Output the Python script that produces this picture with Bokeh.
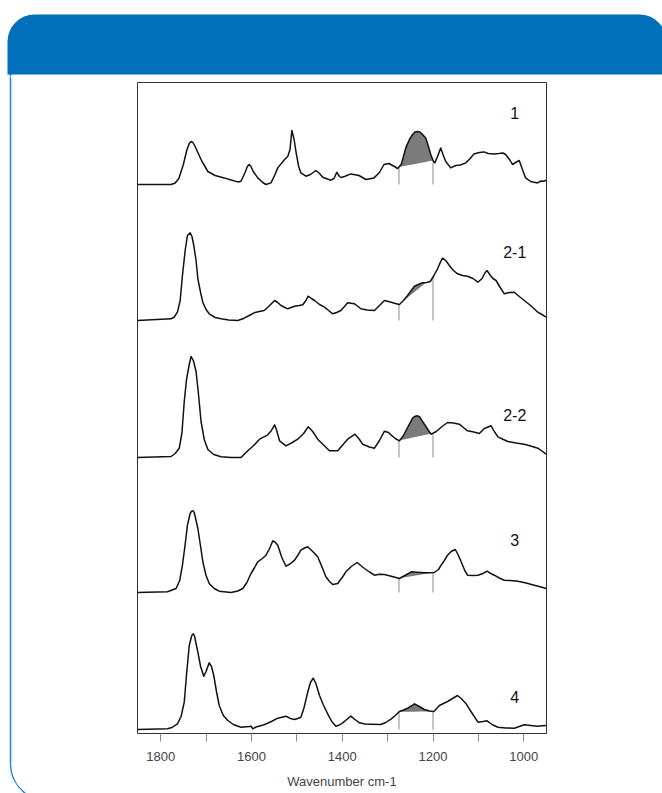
import numpy as np
from bokeh.plotting import figure
from bokeh.layouts import column, row
from bokeh.models import Range1d, FixedTicker
from bokeh.core.properties import value
from bokeh.embed import file_html
from bokeh.resources import INLINE

# ---------------- data ----------------
spectrum_names = ["1", "2-1", "2-2", "3", "4"]

wn_s1 = [1851, 1777, 1768, 1760, 1750, 1742, 1737, 1733, 1729, 1724, 1710, 1696, 1680, 1660, 1645,
         1630, 1623, 1614, 1609, 1605, 1601, 1596, 1586, 1575, 1568, 1557, 1549, 1542, 1527, 1520,
         1515, 1511, 1506, 1502, 1496, 1491, 1480, 1470, 1458, 1450, 1443, 1425, 1418, 1412, 1406,
         1403, 1395, 1381, 1363, 1348, 1330, 1318, 1308, 1297, 1285, 1278, 1270, 1260, 1252, 1245,
         1240, 1234, 1229, 1225, 1216, 1210, 1205, 1200, 1196, 1190, 1183, 1178, 1172, 1161, 1150,
         1140, 1128, 1118, 1110, 1098, 1088, 1078, 1066, 1055, 1046, 1040, 1030, 1025, 1018, 1010,
         1003, 996, 985, 970, 962, 955, 950]
ab_s1 = [0, 0, 1.5, 6, 20, 35, 41, 43, 42, 38, 24, 13, 9, 6.6, 4.5,
         2.6, 3.3, 12, 18, 20, 18, 13, 6.6, 2, 0, 1.6, 9, 16.6, 25, 28,
         35, 54, 45, 33, 18, 11.6, 8.3, 10, 14, 11, 7.3, 4.3, 6, 12.3, 8,
         7, 8, 10.6, 9, 5, 6.6, 12, 20, 21, 18, 16, 20, 36.6, 45, 50,
         52.5, 53, 52.5, 51, 46.6, 38, 30, 24, 21.6, 28, 36.6, 30, 23, 16.6, 19,
         19.5, 21.6, 26, 30.6, 32, 32.6, 31, 30.6, 31, 31.5, 30, 24, 20, 22, 24,
         15, 6.6, 3, 1.6, 3.5, 3.3, 4.5]

wn_s21 = [1851, 1777, 1770, 1763, 1757, 1752, 1746, 1741, 1735, 1731, 1727, 1722, 1718, 1712, 1707,
          1700, 1693, 1680, 1667, 1650, 1630, 1616, 1605, 1594, 1583, 1572, 1562, 1549, 1542, 1535,
          1520, 1505, 1495, 1487, 1480, 1475, 1468, 1461, 1450, 1439, 1430, 1421, 1412, 1403, 1395,
          1388, 1373, 1365, 1359, 1345, 1329, 1318, 1307, 1292, 1283, 1274, 1265, 1256, 1248, 1241,
          1230, 1223, 1214, 1206, 1198, 1190, 1184, 1179, 1172, 1164, 1155, 1146, 1135, 1124, 1112,
          1101, 1092, 1085, 1081, 1075, 1068, 1061, 1052, 1043, 1032, 1021, 1010, 999, 985, 969,
          960, 951]
ab_s21 = [0, 1.7, 3.5, 8.3, 20, 45, 70, 85, 87.7, 84, 75, 60, 41.7, 28, 18,
          11, 6.7, 3, 1.7, 0.5, 0, 2.3, 5, 7.7, 9, 10, 14, 20, 18, 15,
          11.7, 14.3, 15, 15.7, 20, 24.3, 22, 20, 16, 13.3, 10, 6.7, 8, 10, 14,
          17.7, 16.7, 14, 11.7, 10.5, 10, 15, 20, 18.3, 17, 16, 20, 25, 30, 34.3,
          36.5, 37.7, 38, 39, 45, 51.7, 58, 62.3, 60, 55, 50, 46.7, 45, 44.3, 42,
          38.3, 42, 48, 50, 46, 42, 40, 33, 26.7, 28, 28.3, 24, 20, 15, 8.3,
          6, 3.3]

wn_s22 = [1851, 1777, 1768, 1759, 1753, 1748, 1743, 1737, 1733, 1728, 1722, 1717, 1711, 1704, 1696,
          1683, 1667, 1645, 1623, 1608, 1595, 1582, 1564, 1556, 1549, 1545, 1538, 1524, 1510, 1498,
          1485, 1475, 1465, 1454, 1440, 1428, 1410, 1400, 1388, 1372, 1362, 1355, 1340, 1329, 1318,
          1307, 1298, 1292, 1283, 1274, 1265, 1256, 1245, 1239, 1234, 1229, 1226, 1219, 1210, 1204,
          1193, 1180, 1168, 1155, 1142, 1133, 1124, 1110, 1098, 1087, 1072, 1065, 1057, 1045, 1035,
          1017, 999, 985, 969, 960, 951]
ab_s22 = [0, 1, 4, 9.3, 25, 56, 78, 93, 101, 97, 86, 65, 36, 18, 8,
          3, 0.7, 0, 0, 6.7, 12, 18.3, 22.7, 27, 32.7, 28, 16.7, 11.7, 15, 18.3,
          24, 30.7, 26, 18.3, 12, 6.7, 6.7, 12, 18.3, 23.3, 18, 13.3, 10.5, 9.3, 17,
          26.3, 25, 22.3, 19, 16.7, 22, 30, 39.3, 41.3, 41.7, 40.5, 38, 33.3, 27, 23.3,
          26, 31, 35, 34.5, 33.3, 30, 26.7, 25.5, 24, 29, 31.7, 26, 20.7, 18, 16,
          14.5, 13.3, 11.5, 9.3, 6.5, 3.3]

wn_s3 = [1851, 1785, 1766, 1758, 1752, 1746, 1741, 1735, 1732, 1729, 1726, 1724, 1718, 1712, 1707,
         1700, 1693, 1682, 1671, 1645, 1630, 1619, 1610, 1601, 1593, 1586, 1576, 1568, 1560, 1553,
         1547, 1542, 1533, 1524, 1515, 1505, 1498, 1491, 1483, 1476, 1465, 1454, 1445, 1436, 1428,
         1421, 1410, 1400, 1392, 1380, 1367, 1358, 1351, 1340, 1329, 1318, 1307, 1290, 1274, 1262,
         1248, 1235, 1219, 1208, 1197, 1188, 1182, 1175, 1168, 1160, 1151, 1145, 1138, 1130, 1124,
         1112, 1101, 1090, 1081, 1073, 1065, 1054, 1043, 1030, 1013, 995, 977, 962, 951]
ab_s3 = [0, 0.7, 4, 12, 27.3, 48, 67.3, 79, 81.2, 81.7, 80, 76, 64, 46, 30.7,
         17, 9, 4, 1.3, 0, 1.5, 4, 10, 19, 25, 30.7, 34, 37.3, 44, 51.7,
         50, 47.3, 35, 26.3, 28.5, 32.3, 37, 42.3, 44.5, 45.7, 41, 35.7, 26, 15.7, 11,
         8, 9, 15, 20.7, 26, 30, 26.5, 24, 20.5, 17.3, 18.2, 18, 16, 14, 17,
         20.7, 20.2, 19.7, 19.8, 20, 23, 27.3, 32, 37.3, 41, 43, 38, 30.7, 22, 17.3,
         17, 17.3, 19, 21.3, 19, 17.3, 14.5, 12.3, 12, 11.3, 9.5, 7.3, 5.5, 4]

wn_s4 = [1851, 1785, 1775, 1763, 1755, 1748, 1743, 1737, 1732, 1730, 1728, 1725, 1723, 1718, 1712,
         1705, 1700, 1693, 1688, 1683, 1677, 1671, 1662, 1652, 1640, 1623, 1605, 1601, 1597, 1590,
         1572, 1556, 1542, 1524, 1514, 1505, 1498, 1491, 1484, 1476, 1470, 1464, 1458, 1450, 1442,
         1432, 1423, 1414, 1406, 1399, 1390, 1381, 1372, 1362, 1350, 1337, 1315, 1304, 1292, 1283,
         1274, 1265, 1256, 1248, 1241, 1230, 1219, 1208, 1198, 1192, 1186, 1177, 1168, 1157, 1146,
         1138, 1127, 1115, 1101, 1090, 1081, 1070, 1057, 1040, 1021, 1010, 999, 985, 969, 960, 951]
ab_s4 = [0, 0.7, 2, 5.7, 13, 27.3, 55, 84, 93, 95.2, 95.7, 93, 88, 77.3, 63,
         53.3, 58, 66.7, 63, 54, 38, 24, 14, 9, 5, 2.3, 3, 3.3, 0.7, 2.5,
         4.7, 8, 11.3, 13.3, 11, 10, 11, 12.3, 22, 37.3, 47, 51.3, 46, 34, 25,
         15.7, 8, 3.3, 4.5, 6.7, 10, 13.3, 10, 6.7, 5.5, 5.3, 5, 7, 10.7, 14,
         18, 19.5, 21.3, 23.5, 25.7, 23, 20, 18.5, 18, 21, 24, 26, 28, 31, 34,
         31, 25.7, 17, 7.3, 8, 8.7, 5, 2.3, 1.5, 1.3, 3, 4.7, 4, 3.3, 3.8, 4]

# stacking offsets of the five traces and where their labels sit
offsets = [549, 413, 276, 141, 4]
label_y = [72, 68.5, 43, 52.5, 32.5]
label_wn = 1020

band_limits = [1275, 1200]          # integration band (cm-1)
x_ticks = [1800, 1600, 1400, 1200, 1000]
minor_x_ticks = [1700, 1500, 1300, 1100]
x_label = "Wavenumber cm-1"

spectra = [(wn_s1, ab_s1), (wn_s21, ab_s21), (wn_s22, ab_s22), (wn_s3, ab_s3), (wn_s4, ab_s4)]

BLUE = "#0070ba"
EDGE_BLUE = "#1f86d6"


def bare(fig):
    fig.grid.visible = False
    fig.outline_line_color = None
    fig.background_fill_color = "white"
    fig.border_fill_color = "white"
    return fig


# ---------------- header band (page decoration) ----------------
head = bare(figure(width=662, height=76, x_range=Range1d(0, 662), y_range=Range1d(0, 76),
                   output_backend="svg", toolbar_location=None, title=None,
                   x_axis_location=None, y_axis_location=None,
                   min_border=0, min_border_left=0, min_border_right=0,
                   min_border_top=0, min_border_bottom=0))
head.segment(x0=[10], x1=[10], y0=[0], y1=[20], line_color=EDGE_BLUE, line_width=1.5)
head.quad(left=[7], right=[666], bottom=[2], top=[62], fill_color=BLUE, line_color=None,
          border_radius=dict(top_left=27, top_right=27, bottom_right=0, bottom_left=0))

# ---------------- left frame strip (page decoration) ----------------
strip = bare(figure(width=133, height=717, x_range=Range1d(0, 133), y_range=Range1d(0, 717),
                    output_backend="svg", toolbar_location=None, title=None,
                    x_axis_location=None, y_axis_location=None,
                    min_border=0, min_border_left=0, min_border_right=0,
                    min_border_top=0, min_border_bottom=0))
strip.segment(x0=[10], x1=[10], y0=[30], y1=[717], line_color=EDGE_BLUE, line_width=1.5)
strip.arc(x=[47.5], y=[30], radius=37.5, start_angle=np.pi, end_angle=1.3 * np.pi,
          direction="anticlock", line_color=EDGE_BLUE, line_width=1.5)

# ---------------- the spectra ----------------
p = figure(width=529, height=717, title=None,
           x_range=Range1d(1851, 950), y_range=Range1d(0, 651),
           output_backend="svg", toolbar_location=None, y_axis_location=None,
           min_border_left=4, min_border_right=116, min_border_top=6, min_border_bottom=60)
p.outline_line_color = "#333333"
p.outline_line_width = 1
p.grid.visible = False
p.background_fill_color = "white"
p.border_fill_color = "white"

ax = p.xaxis[0]
ax.ticker = FixedTicker(ticks=x_ticks, minor_ticks=minor_x_ticks)
ax.major_tick_in = 0
ax.major_tick_out = 8
ax.minor_tick_in = 0
ax.minor_tick_out = 8
ax.major_tick_line_color = "#8a8a8a"
ax.minor_tick_line_color = "#8a8a8a"
ax.axis_line_color = "#333333"
ax.major_label_text_font = "Liberation Sans"
ax.major_label_text_font_size = "13px"
ax.major_label_text_color = "#444444"
ax.major_label_standoff = 10
ax.axis_label = x_label
ax.axis_label_text_font = "Liberation Sans"
ax.axis_label_text_font_size = "13px"
ax.axis_label_text_font_style = "normal"
ax.axis_label_text_color = "#444444"
ax.axis_label_standoff = 10

lo, hi = band_limits[1], band_limits[0]
for (wn, ab), off, name, ly in zip(spectra, offsets, spectrum_names, label_y):
    wn = np.asarray(wn, float)
    ab = np.asarray(ab, float)
    wr, ar = wn[::-1], ab[::-1]
    # shaded band between the curve and the straight baseline drawn across the band
    inner = wn[(wn < hi) & (wn > lo)]
    xs = np.concatenate([[hi], inner, [lo]])
    curve = np.interp(xs, wr, ar)
    a_hi = np.interp(hi, wr, ar)
    a_lo = np.interp(lo, wr, ar)
    base = a_hi + (a_lo - a_hi) * (hi - xs) / (hi - lo)
    p.varea(x=xs, y1=off + base, y2=off + np.maximum(curve, base),
            fill_color="#7b7b7b", fill_alpha=1)
    # band limit markers
    p.segment(x0=band_limits, x1=band_limits, y0=[off, off],
              y1=[off + a_hi, off + a_lo], line_color="#8a8a8a", line_width=1)
    # the spectrum
    p.line(wn, ab + off, line_color="#111111", line_width=1.5, line_join="round")
    p.text(x=[label_wn], y=[off + ly], text=[name], text_align="center",
           text_baseline="middle", text_font=value("Liberation Sans"),
           text_font_size="16px", text_color="#111111")

layout = column(head, row(column(strip, spacing=0), column(p, spacing=0), spacing=0), spacing=0)
open("out.html", "w").write(file_html(layout, INLINE))
